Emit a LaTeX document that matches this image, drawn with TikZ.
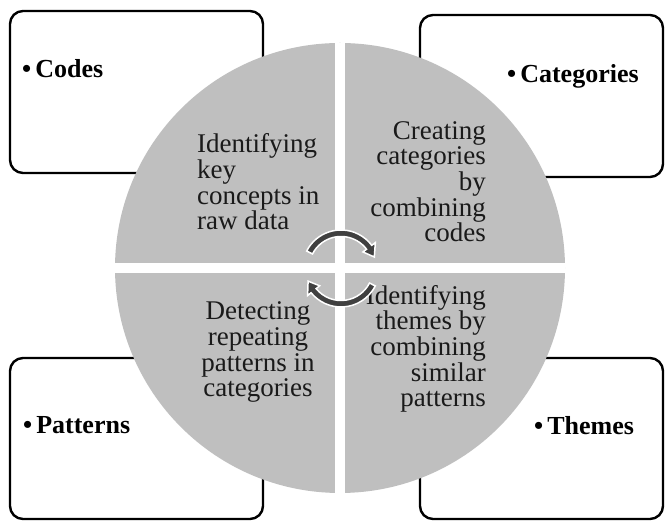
\documentclass[tikz,border=0pt]{standalone}
\usepackage{fontspec}
\setmainfont{Liberation Serif}
\definecolor{quadgray}{HTML}{BFBFBF}
\definecolor{arrowgray}{HTML}{404040}
\definecolor{qtextcol}{HTML}{1A1A1A}
\begin{document}
\begin{tikzpicture}[x=1pt,y=1pt,
  labelbox/.style={draw=black, line width=2.4pt, rounded corners=13pt, fill=white},
  boxlabel/.style={font=\fontsize{26}{30}\bfseries\selectfont, inner sep=0pt, anchor=base west, text=black},
  qtext/.style={font=\fontsize{27}{25.7}\selectfont, inner sep=0pt, text=qtextcol},
  cyc/.style={fill=arrowgray, draw=white, line width=1.5pt, line join=miter}]
\useasboundingbox (0,0) rectangle (665,521);
% label boxes (behind the circle)
\draw[labelbox] (10,348) rectangle (263,510);
\draw[labelbox] (420,344) rectangle (663,506);
\draw[labelbox] (10,2) rectangle (263,163);
\draw[labelbox] (420,2) rectangle (663,163);
\node[boxlabel] (codes) at (22,443) {•\hspace{4pt}Codes};
\node[boxlabel] (categories) at (507,438) {•\hspace{4pt}Categories};
\node[boxlabel] (patterns) at (23,87) {•\hspace{4pt}Patterns};
\node[boxlabel] (themes) at (534,86) {•\hspace{4pt}Themes};
% circle split into four quadrants
\fill[quadgray] (340,253) circle[radius=225];
\fill[white] (335,28) rectangle (345,478);
\fill[white] (115,248) rectangle (565,258);
% quadrant texts (anchored at the baseline of their last line)
\node[qtext, align=left, anchor=base west] (tl) at (197,291) {Identifying\\key\\concepts in\\raw data};
\node[qtext, align=right, anchor=base east] (tr) at (486,279) {Creating\\categories\\by\\combining\\codes};
\node[qtext, align=center, anchor=base] (bl) at (258,124) {Detecting\\repeating\\patterns in\\categories};
\node[qtext, align=right, anchor=base east] (br) at (486,114) {Identifying\\themes by\\combining\\similar\\patterns};
% circular arrows
\draw[cyc, shift={(341,252.5)}] (153:38.5) arc[start angle=153, end angle=37, radius=38.5]
  -- (37:43) -- (19:35.25) -- (37:27.5) -- (37:32)
  arc[start angle=37, end angle=153, radius=32] -- cycle;
\draw[cyc, shift={(341,252.5)}] (-27:38.5) arc[start angle=-27, end angle=-141, radius=38.5]
  -- (-141:43) -- (-159:35.25) -- (-141:27.5) -- (-141:32)
  arc[start angle=-141, end angle=-27, radius=32] -- cycle;
\end{tikzpicture}
\end{document}
